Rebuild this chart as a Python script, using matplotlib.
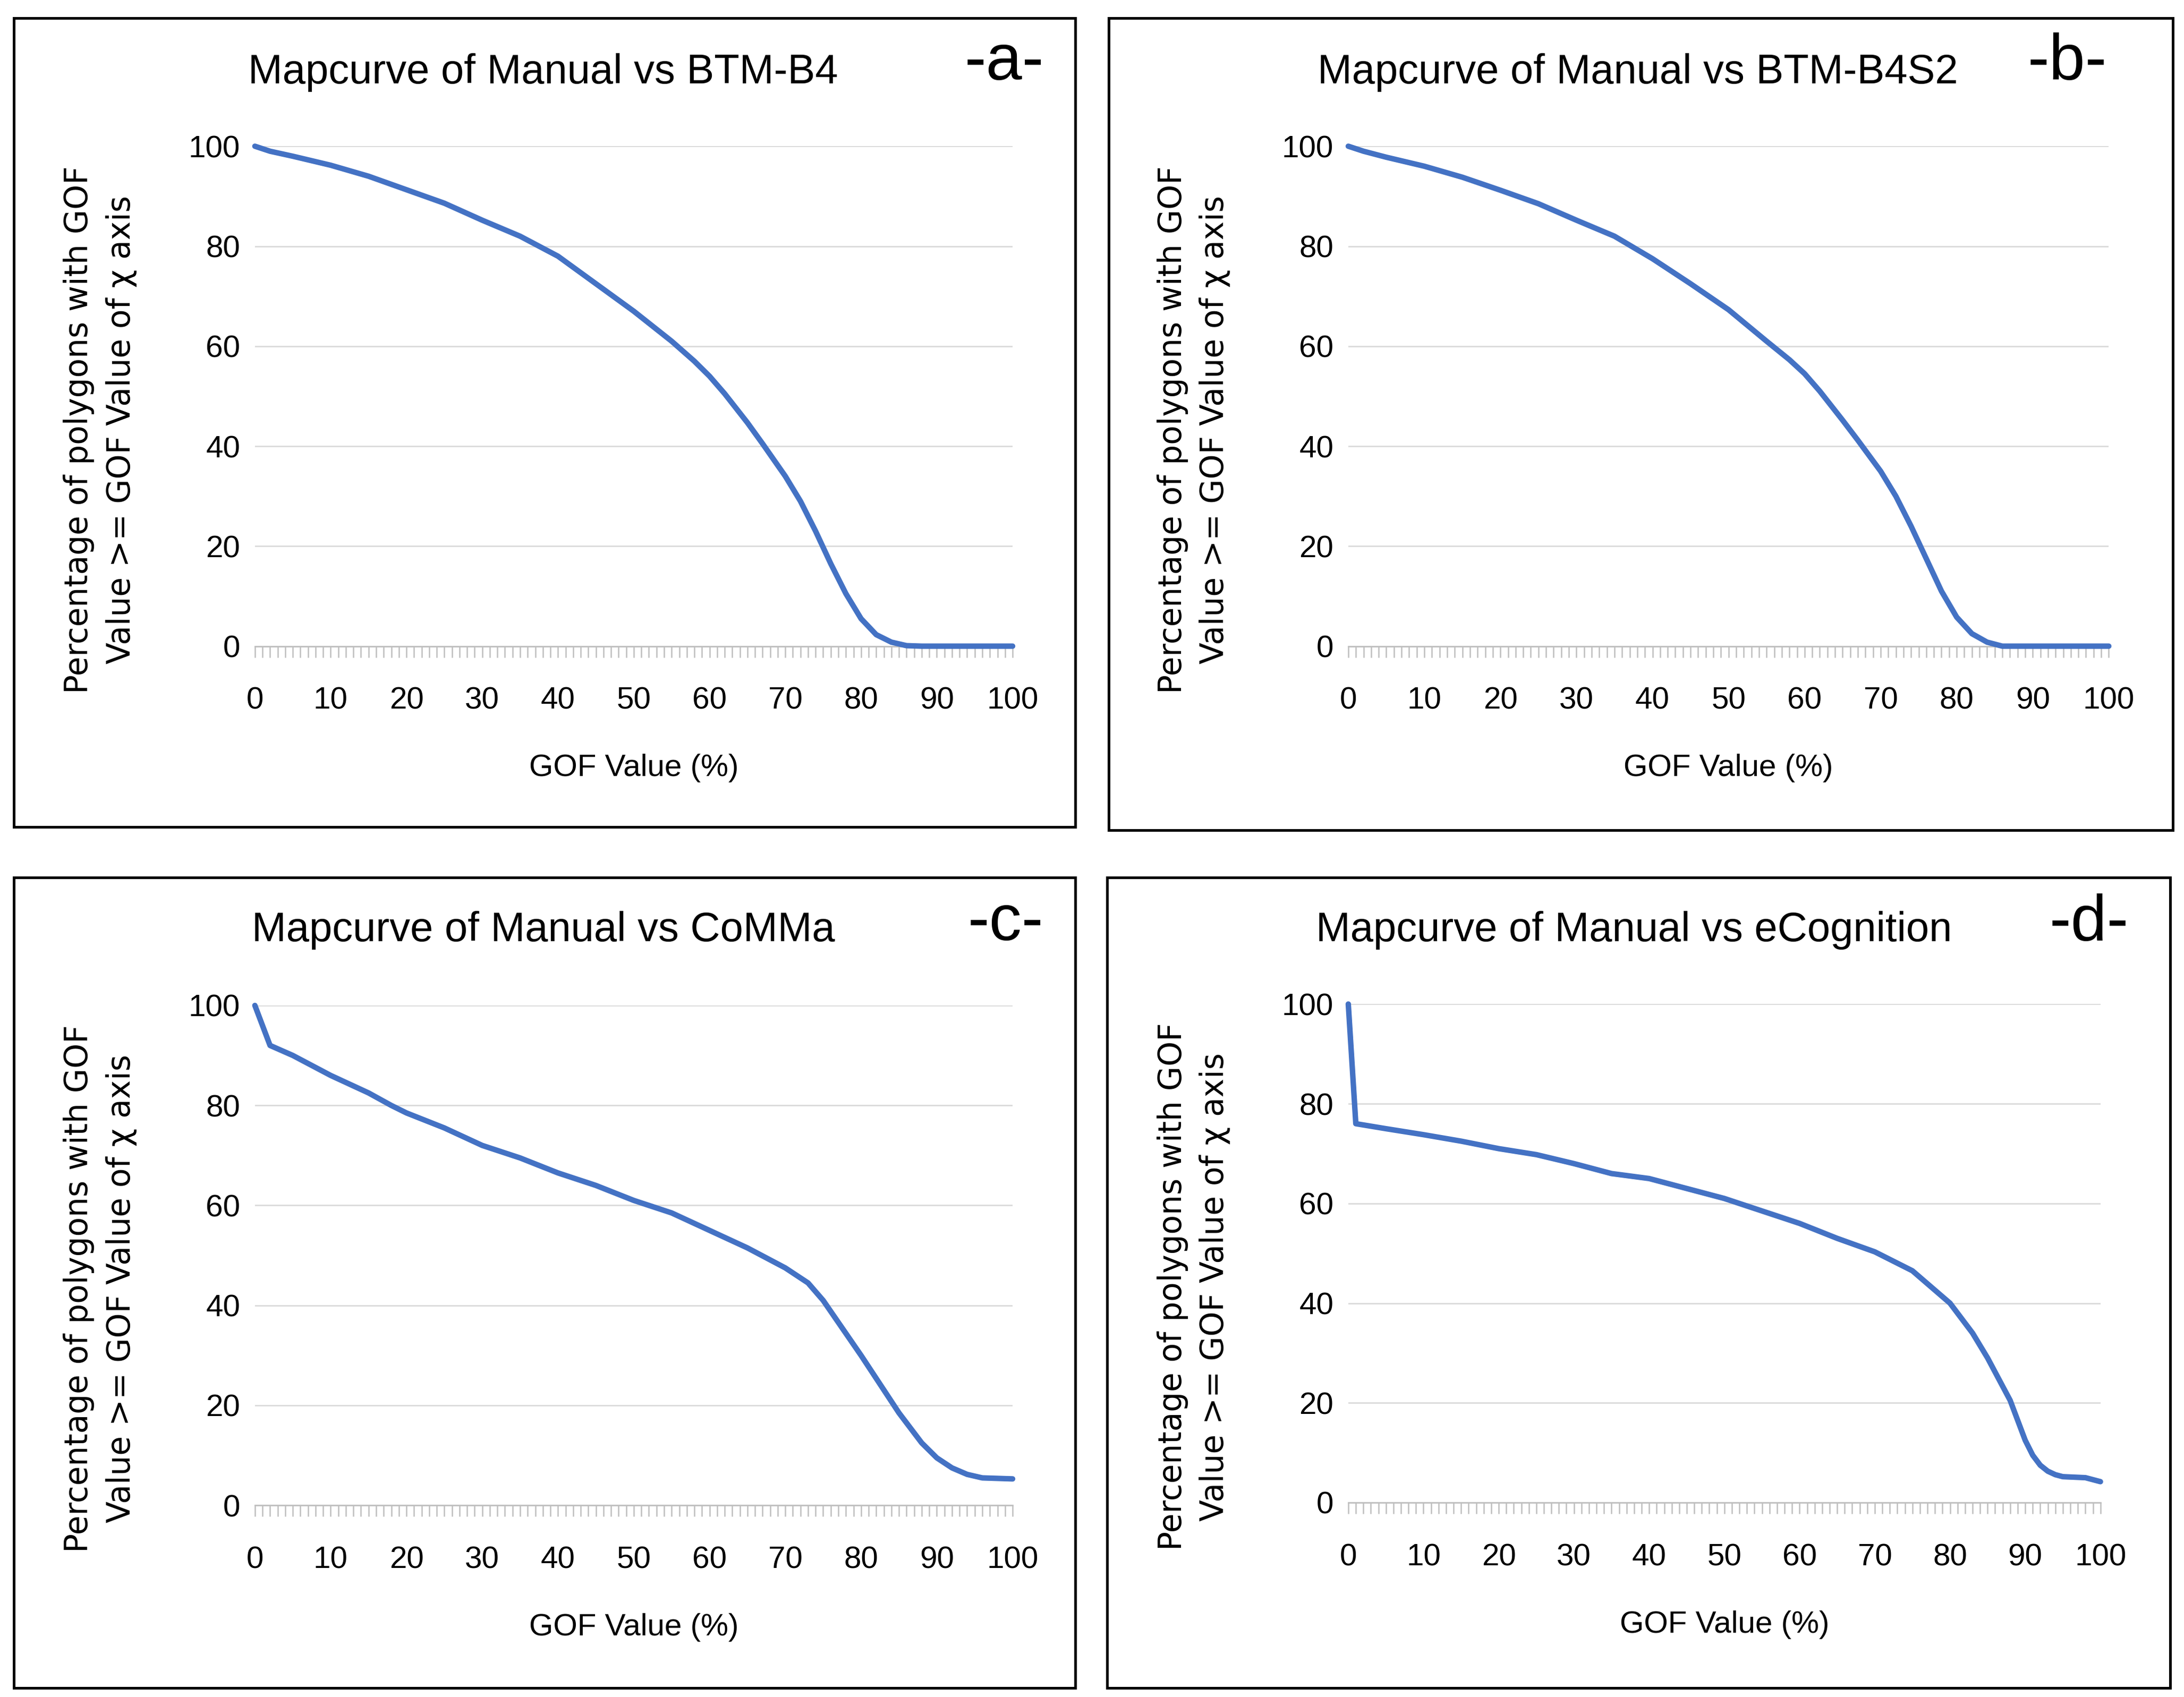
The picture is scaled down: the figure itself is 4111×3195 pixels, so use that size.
import matplotlib
matplotlib.use("Agg")
import matplotlib.pyplot as plt
from matplotlib.patches import Rectangle
from matplotlib.ticker import MultipleLocator

plt.rcParams['font.family'] = ['Liberation Sans', 'DejaVu Sans']

# ---------------- data ----------------
titles = ["Mapcurve of Manual vs BTM-B4", "Mapcurve of Manual vs BTM-B4S2",
          "Mapcurve of Manual vs CoMMa", "Mapcurve of Manual vs eCognition"]
tags = ["-a-", "-b-", "-c-", "-d-"]

x_a = [0, 2, 5, 10, 15, 20, 25, 30, 35, 40, 45, 50, 55, 58, 60, 62, 65, 67, 70, 72, 74, 76, 78, 80, 82, 84, 86, 88, 100]
y_a = [100, 99, 98, 96.2, 94, 91.3, 88.6, 85.2, 82, 78, 72.5, 67, 61, 57, 54, 50.5, 44.7, 40.5, 34, 29, 23, 16.5, 10.5, 5.5, 2.3, 0.8, 0.1, 0, 0]

x_b = [0, 2, 5, 10, 15, 20, 25, 30, 35, 40, 45, 50, 55, 58, 60, 62, 65, 67, 70, 72, 74, 76, 78, 80, 82, 84, 86, 100]
y_b = [100, 99, 97.8, 96, 93.8, 91.2, 88.5, 85.2, 82, 77.5, 72.5, 67.3, 61, 57.3, 54.5, 51, 45.2, 41.2, 35, 30, 24, 17.5, 11, 5.8, 2.5, 0.8, 0, 0]

x_c = [0, 2, 5, 10, 15, 18, 20, 25, 30, 35, 40, 45, 50, 55, 60, 65, 70, 73, 75, 80, 85, 88, 90, 92, 94, 96, 100]
y_c = [100, 92, 90, 86, 82.5, 80, 78.5, 75.5, 72, 69.5, 66.5, 64, 61, 58.5, 55, 51.5, 47.5, 44.5, 41, 30, 18.5, 12.5, 9.5, 7.5, 6.2, 5.5, 5.3]

x_d = [0, 1, 5, 10, 15, 20, 25, 30, 35, 40, 45, 50, 55, 60, 65, 70, 75, 80, 83, 85, 88, 89, 90, 91, 92, 93, 94, 95, 98, 100]
y_d = [100, 76, 75, 73.8, 72.5, 71, 69.8, 68, 66, 65, 63, 61, 58.5, 56, 53, 50.3, 46.5, 40, 34, 29, 20.5, 16.5, 12.5, 9.5, 7.5, 6.3, 5.6, 5.2, 5, 4.2]

xs = [x_a, x_b, x_c, x_d]
ys = [y_a, y_b, y_c, y_d]

ylabel = "Percentage of polygons with GOF\nValue >= GOF Value of \u03c7 axis"
xlabel = "GOF Value (%)"

# ---------------- layout ----------------
W, H = 1568.0, 1218.6  # reference display coordinates
def fx(px): return px / W
def fy(py): return 1 - py / H

fig = plt.figure(figsize=(41.11 / 2, 31.95 / 2), dpi=200)

# axes boxes: (x0, x100, y100, y0) in display px
boxes = [(183, 727, 105, 464), (968, 1514, 105, 464),
         (183, 727, 722, 1081), (968, 1508, 721, 1079)]
borders = [(10, 13, 772, 594), (796, 13, 1560, 596),
           (10, 630, 772, 1212), (795, 630, 1558, 1212)]
title_pos = [(390, 52), (1176, 52), (390, 668), (1173, 668)]
tag_pos = [(721, 45), (1484, 45), (722, 663), (1500, 663)]

line_color = "#4472C4"
grid_color = "#D9D9D9"
axis_color = "#BFBFBF"

for i in range(4):
    x0, x1, ytop, ybot = boxes[i]
    ax = fig.add_axes([fx(x0), fy(ybot), fx(x1) - fx(x0), fy(ytop) - fy(ybot)])
    ax.plot(xs[i], ys[i], color=line_color, lw=3.7, solid_joinstyle='round',
            solid_capstyle='round', zorder=3, clip_on=False)
    ax.set_xlim(0, 100)
    ax.set_ylim(0, 100)
    ax.set_yticks([0, 20, 40, 60, 80, 100])
    ax.set_xticks(range(0, 101, 10))
    ax.xaxis.set_minor_locator(MultipleLocator(1))
    for s in ['top', 'right', 'left']:
        ax.spines[s].set_visible(False)
    ax.spines['bottom'].set_color(axis_color)
    ax.spines['bottom'].set_linewidth(1.0)
    ax.grid(axis='y', color=grid_color, lw=0.95, zorder=0)
    ax.tick_params(axis='y', length=0, pad=10, labelsize=21, labelcolor='#000000')
    ax.tick_params(axis='x', which='major', direction='out', length=7.5, width=0.9,
                   color=axis_color, pad=20, labelsize=21)
    ax.tick_params(axis='x', which='minor', direction='out', length=7.5, width=0.9,
                   color=axis_color)
    ax.set_xlabel(xlabel, fontsize=21, labelpad=26)
    ax.patch.set_visible(False)

    # border
    bx0, by0, bx1, by1 = borders[i]
    fig.patches.append(Rectangle((fx(bx0), fy(by1)), fx(bx1) - fx(bx0), fy(by0) - fy(by1),
                                 transform=fig.transFigure, fill=False,
                                 edgecolor='black', lw=1.8))
    # title
    tx, ty = title_pos[i]
    fig.text(fx(tx), fy(ty), titles[i], ha='center', va='center', fontsize=28)
    gx, gy = tag_pos[i]
    fig.text(fx(gx), fy(gy), tags[i], ha='center', va='center', fontsize=44)
    # y label
    fig.text(fx(x0 - 111), fy((ytop + ybot) / 2 + 24), ylabel, rotation=90,
             ha='center', va='center', multialignment='center', fontsize=21.5,
             linespacing=1.45, family=['DejaVu Sans'])

fig.savefig("out.png", dpi=200, facecolor='white')
